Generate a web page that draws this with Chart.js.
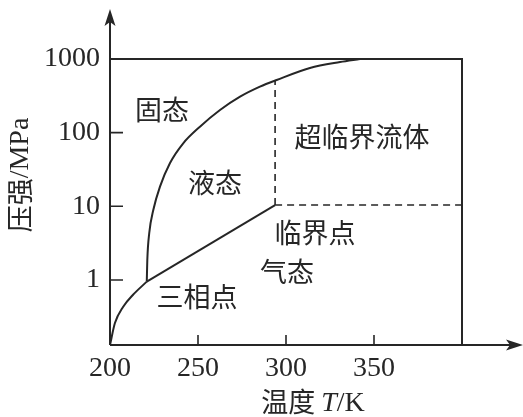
<!DOCTYPE html>
<html>
<head>
<meta charset="utf-8">
<script src="https://cdn.jsdelivr.net/npm/chart.js@4.4.1/dist/chart.umd.min.js"></script>
<style>
  html, body { margin: 0; padding: 0; background: #fff; }
  #wrap { width: 523px; height: 417px; }
</style>
</head>
<body>
<div id="wrap"><canvas id="diagram"></canvas></div>
<script>
// axis ranges
const tempRange = [200, 400];
const presRange = [0.131, 1000];
const tempTicks = [200, 250, 300, 350];
const presTicks = [1, 10, 100, 1000];

// phase boundaries (T in K, p in MPa)
const sublT = [200, 202.8, 207.4, 213.1, 220.9];
const sublP = [0.131, 0.26, 0.43, 0.63, 0.95];

const meltT = [220.9, 221.2, 222.3, 224.6, 228.4, 234.1, 241.6, 251.1, 262.5, 273.9, 285.2, 294.7, 313.6, 330.7, 342];
const meltP = [0.95, 1.87, 4.34, 8.9, 18.5, 38.7, 71.7, 120.5, 203, 308, 421, 519, 755, 910, 1000];

const vapT = [220.9, 293.8];
const vapP = [0.95, 10.4];

// supercritical boundaries (dashed)
const critVertT = [293.8, 293.8];
const critVertP = [10.4, 512];
const critHorT = [293.8, 400];
const critHorP = [10.4, 10.4];

// outer frame top + right
const frameT = [200, 400, 400];
const frameP = [1000, 1000, 0.131];

// region names, placed at (T, p)
const regionNames = ['固态', '液态', '超临界流体', '临界点', '气态', '三相点'];
const regionT = [229.5, 259.7, 343.2, 316.5, 300.6, 249.4];
const regionP = [203, 20.7, 87, 4.35, 1.28, 0.59];

const ink = '#262626';
const cjk = '"Noto Sans CJK SC", "Noto Sans CJK JP", sans-serif';
const serif = '"Liberation Serif", "DejaVu Serif", serif';

const pts = (xs, ys) => xs.map((x, i) => ({ x: x, y: ys[i] }));

function line(data, extra) {
    return Object.assign({
        data: data,
        showLine: true,
        borderColor: ink,
        borderWidth: 2,
        pointRadius: 0,
        fill: false,
        clip: false
    }, extra || {});
}

const decorPlugin = {
    id: 'decor',
    afterDraw(chart) {
        const c = chart.ctx;
        const sx = chart.scales.x;
        const sy = chart.scales.y;
        const x0 = sx.getPixelForValue(tempRange[0]);
        const y0 = sy.getPixelForValue(presRange[0]);

        c.save();
        c.strokeStyle = ink;
        c.fillStyle = ink;
        c.lineWidth = 2;

        // axes with arrows
        c.beginPath();
        c.moveTo(x0, y0);
        c.lineTo(x0, 14);
        c.moveTo(x0, y0);
        c.lineTo(518, y0);
        c.stroke();

        c.beginPath();
        c.moveTo(x0, 9);
        c.lineTo(x0 + 5.5, 26);
        c.lineTo(x0, 22);
        c.lineTo(x0 - 5.5, 26);
        c.closePath();
        c.fill();

        c.beginPath();
        c.moveTo(523, y0);
        c.lineTo(506, y0 - 5.5);
        c.lineTo(510, y0);
        c.lineTo(506, y0 + 5.5);
        c.closePath();
        c.fill();

        // inner tick marks
        c.lineWidth = 1.6;
        c.beginPath();
        tempTicks.slice(1).forEach(t => {
            const px = sx.getPixelForValue(t);
            c.moveTo(px, y0);
            c.lineTo(px, y0 - 10);
        });
        presTicks.slice(0, -1).forEach(p => {
            const py = sy.getPixelForValue(p);
            c.moveTo(x0, py);
            c.lineTo(x0 + 13, py);
        });
        c.stroke();

        // region labels
        c.font = '27px ' + cjk;
        c.textAlign = 'center';
        c.textBaseline = 'middle';
        regionNames.forEach((name, i) => {
            c.fillText(name, sx.getPixelForValue(regionT[i]), sy.getPixelForValue(regionP[i]));
        });

        // y title, rotated
        c.save();
        c.translate(20, 175);
        c.rotate(-Math.PI / 2);
        c.textBaseline = 'middle';
        c.textAlign = 'left';
        const a = '压强';
        const b = '/MPa';
        c.font = '27px ' + cjk;
        const wa = c.measureText(a).width;
        c.font = '28px ' + serif;
        const wb = c.measureText(b).width;
        const px = -(wa + wb) / 2;
        c.font = '27px ' + cjk;
        c.fillText(a, px, 0);
        c.font = '28px ' + serif;
        c.fillText(b, px + wa, 1);
        c.restore();

        // x title: 温度 T/K
        const parts = [
            ['温度 ', '27px ' + cjk, 402],
            ['T', 'italic 28px ' + serif, 404],
            ['/K', '28px ' + serif, 404]
        ];
        let total = 0;
        parts.forEach(p => { c.font = p[1]; total += c.measureText(p[0]).width; });
        let cx = 313 - total / 2;
        c.textAlign = 'left';
        c.textBaseline = 'middle';
        parts.forEach(p => {
            c.font = p[1];
            c.fillText(p[0], cx, p[2]);
            cx += c.measureText(p[0]).width;
        });

        c.restore();
    }
};

new Chart(document.getElementById('diagram'), {
    type: 'scatter',
    data: {
        datasets: [
            line(pts(sublT, sublP), { cubicInterpolationMode: 'monotone' }),
            line(pts(meltT, meltP), { cubicInterpolationMode: 'monotone' }),
            line(pts(vapT, vapP)),
            line(pts(frameT, frameP)),
            line(pts(critVertT, critVertP), { borderDash: [7, 5], borderWidth: 1.6 }),
            line(pts(critHorT, critHorP), { borderDash: [7, 5], borderWidth: 1.6 })
        ]
    },
    options: {
        responsive: true,
        maintainAspectRatio: false,
        animation: false,
        devicePixelRatio: 1,
        layout: { padding: { left: 0, right: 61, top: 59, bottom: 0 } },
        plugins: { legend: { display: false }, tooltip: { enabled: false } },
        scales: {
            x: {
                type: 'linear',
                min: tempRange[0],
                max: tempRange[1],
                afterFit: s => { s.height = 72; },
                afterBuildTicks: s => { s.ticks = tempTicks.map(v => ({ value: v })); },
                grid: { display: false, drawTicks: false },
                border: { display: false },
                ticks: {
                    color: ink,
                    padding: 7,
                    maxRotation: 0,
                    autoSkip: false,
                    font: { family: serif, size: 28 },
                    callback: v => String(v)
                }
            },
            y: {
                type: 'logarithmic',
                min: presRange[0],
                max: presRange[1],
                afterFit: s => { s.width = 110; },
                afterBuildTicks: s => { s.ticks = presTicks.map(v => ({ value: v })); },
                grid: { display: false, drawTicks: false },
                border: { display: false },
                ticks: {
                    color: ink,
                    padding: 10,
                    autoSkip: false,
                    font: { family: serif, size: 28 },
                    callback: v => String(v)
                }
            }
        }
    },
    plugins: [decorPlugin]
});
</script>
</body>
</html>
